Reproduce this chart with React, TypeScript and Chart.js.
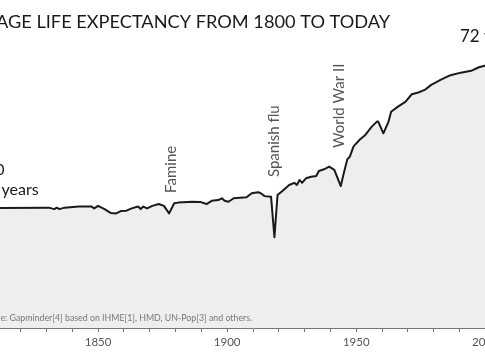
import React, { useEffect, useRef } from 'react';
import { Chart, registerables } from 'chart.js';
Chart.register(...registerables);

const years = [1812, 1831, 1833, 1834, 1835, 1837, 1842.5, 1847.5, 1848.5, 1850, 1852.5, 1855, 1857, 1859, 1861, 1863, 1865.5, 1866.5, 1867.5, 1869, 1871, 1873.5, 1875.5, 1877.5, 1879.5, 1881, 1886.5, 1889.5, 1892, 1894, 1896.5, 1898, 1899, 1900.5, 1902.5, 1907.5, 1909.5, 1912, 1913, 1914.5, 1917, 1918.3, 1919.5, 1921.5, 1924, 1926, 1927, 1928, 1929, 1930.5, 1932.5, 1934.5, 1935.5, 1937.5, 1939.5, 1941.5, 1944, 1945, 1946.5, 1947.5, 1949, 1951.5, 1953.5, 1956, 1958, 1958.5, 1960.5, 1962.5, 1963.5, 1966, 1969, 1971.5, 1974, 1976.5, 1979, 1983, 1986.5, 1990.5, 1994.5, 1997.5, 1999, 2000];
const lifeExpectancy = [29.0, 29.1, 28.7, 29.1, 28.7, 29.1, 29.4, 29.4, 28.9, 29.6, 28.7, 27.6, 27.5, 28.2, 28.25, 28.9, 29.4, 28.7, 29.4, 28.9, 29.6, 30.1, 29.6, 27.5, 30.3, 30.5, 30.75, 30.7, 30.1, 31.0, 31.2, 31.7, 31.0, 30.75, 31.7, 32.0, 33.1, 33.4, 33.1, 32.3, 32.1, 20.9, 32.6, 33.8, 35.4, 36.0, 35.4, 36.8, 36.0, 37.25, 37.7, 37.9, 39.3, 39.75, 40.5, 39.6, 35.1, 38.2, 42.5, 43.25, 46.2, 48.1, 49.3, 51.6, 53.0, 53.0, 49.75, 53.0, 55.75, 57.1, 58.5, 60.6, 61.1, 61.8, 63.2, 64.75, 65.9, 66.6, 67.1, 68.1, 68.4, 68.6];

const labeledTickYears = [1850, 1900, 1950, 2000];
const titleText = 'AVERAGE LIFE EXPECTANCY FROM 1800 TO TODAY';
const titleHiddenPart = 'AVER';
const sourceText = 'Source: Gapminder[4] based on IHME[1], HMD, UN-Pop[3] and others.';
const sourceHiddenPart = 'Sourc';
const startYearLabel = '1800';
const startValueLabel = '29 years';
const endValueLabel = '72 years';

const eventLabels = ['Famine', 'Spanish flu', 'World War II'];
const eventYears = [1878.3, 1918.3, 1943.2];
const eventLabelBase = [33.2, 37.6, 45.7];

const CANVAS_W = 574;
const CANVAS_H = 360;
const SHIFT = 34; // canvas x of viewport left edge
const FONT = 'Lato, "Open Sans", sans-serif';

const overlay = {
  id: 'overlay',
  afterDraw(chart: any) {
    const ctx = chart.ctx as CanvasRenderingContext2D;
    const xs = chart.scales.x;
    const ys = chart.scales.y;
    ctx.save();
    // title
    ctx.font = `18.2px ${FONT}`;
    ctx.fillStyle = '#1a1a1a';
    ctx.textAlign = 'left';
    ctx.textBaseline = 'alphabetic';
    const hw = ctx.measureText(titleHiddenPart).width;
    ctx.fillText(titleText, SHIFT - hw - 4, 28);
    // end label
    ctx.font = `17px ${FONT}`;
    ctx.fillText(endValueLabel, SHIFT + 460, 41.5);
    // start labels
    ctx.font = `16px ${FONT}`;
    ctx.textAlign = 'right';
    ctx.fillText(startYearLabel, SHIFT + 4.5, 175);
    ctx.textAlign = 'left';
    const pw = ctx.measureText('29 ').width;
    ctx.fillText(startValueLabel, SHIFT + 1.5 - pw, 195);
    // source
    ctx.font = `8.8px ${FONT}`;
    ctx.fillStyle = '#777';
    const sw = ctx.measureText(sourceHiddenPart).width;
    ctx.fillText(sourceText, SHIFT - sw + 0.5, 321);
    // event annotations
    ctx.font = `15px ${FONT}`;
    ctx.fillStyle = '#555';
    eventLabels.forEach((lab, i) => {
      const x = xs.getPixelForValue(eventYears[i]);
      const y = ys.getPixelForValue(eventLabelBase[i]);
      ctx.save();
      ctx.translate(x, y);
      ctx.rotate(-Math.PI / 2);
      ctx.textAlign = 'left';
      ctx.textBaseline = 'middle';
      ctx.fillText(lab, 0, 0);
      ctx.restore();
    });
    ctx.restore();
  },
};

export default function App() {
  const ref = useRef<HTMLCanvasElement>(null);
  useEffect(() => {
    document.body.style.margin = '0';
    const canvas = ref.current!;
    const chart = new Chart(canvas, {
      type: 'line',
      data: {
        datasets: [
          {
            data: years.map((y, i) => ({ x: y, y: lifeExpectancy[i] })),
            borderColor: '#1a1a1a',
            borderWidth: 2,
            backgroundColor: '#eeeeee',
            fill: 'start',
            pointRadius: 0,
            tension: 0,
            borderJoinStyle: 'round',
          },
        ],
      },
      options: {
        animation: false,
        responsive: false,
        devicePixelRatio: 1,
        layout: { padding: 0 },
        plugins: { legend: { display: false }, tooltip: { enabled: false }, title: { display: false } },
        scales: {
          x: {
            type: 'linear',
            min: 1800,
            max: 2020,
            afterFit: (s: any) => {
              s.height = 32;
            },
            grid: { drawOnChartArea: false, drawTicks: true, tickLength: 4, tickColor: '#777' },
            border: { display: true, color: '#777', width: 1 },
            ticks: {
              stepSize: 10,
              autoSkip: false,
              maxRotation: 0,
              padding: 3,
              color: '#555',
              font: { family: FONT, size: 11.5 },
              callback: (v: any) => (labeledTickYears.includes(Number(v)) ? String(v) : ''),
            },
          },
          y: { display: false, min: -4.33, max: 86.78 },
        },
      },
      plugins: [overlay],
    });
    return () => chart.destroy();
  }, []);
  return (
    <div style={{ position: 'fixed', left: 0, top: 0, width: 485, height: 360, overflow: 'hidden', background: '#fff' }}>
      <div style={{ position: 'absolute', left: -SHIFT, top: 0, width: CANVAS_W, height: CANVAS_H }}>
        <canvas ref={ref} width={CANVAS_W} height={CANVAS_H} style={{ display: 'block' }} />
      </div>
    </div>
  );
}
